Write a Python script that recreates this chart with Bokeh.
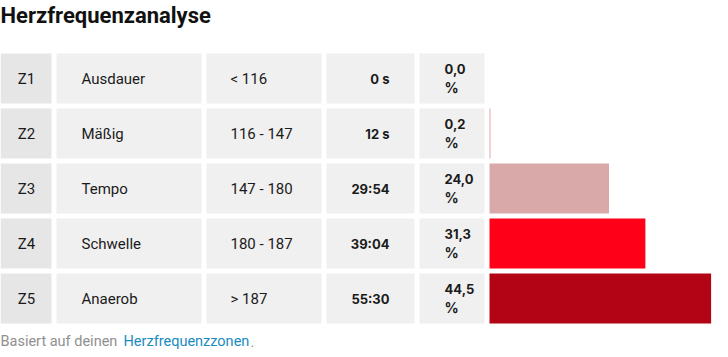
from bokeh.plotting import figure
from bokeh.models import Range1d, ColumnDataSource
from bokeh.core.properties import value
from bokeh.embed import file_html
from bokeh.resources import INLINE

# ---- data ----
title = "Herzfrequenzanalyse"
zones = ["Z1", "Z2", "Z3", "Z4", "Z5"]
names = ["Ausdauer", "Mäßig", "Tempo", "Schwelle", "Anaerob"]
hr_ranges = ["< 116", "116 - 147", "147 - 180", "180 - 187", "> 187"]
durations = ["0 s", "12 s", "29:54", "39:04", "55:30"]
percents = [0.0, 0.2, 24.0, 31.3, 44.5]
bar_colors = ["#d9a9aa", "#d9a9aa", "#d9a9aa", "#ff0019", "#b20414"]
footer_prefix = "Basiert auf deinen "
footer_link = "Herzfrequenzzonen"
footer_suffix = "."

# ---- layout ----
W, H = 728, 357
ROW_TOP, ROW_H, ROW_GAP = 53, 50, 5
cols = [(0, 51), (56, 201), (206, 321), (326, 414), (419, 484)]
BAR_X0 = 489
PX_PER_PCT = 4.98
TXT = "#1b1b1b"
MAIN_FONT = value("Roboto")
NUM_FONT = value("Inter")

p = figure(width=W, height=H, x_range=Range1d(0, W), y_range=Range1d(H, 0),
           output_backend="svg", toolbar_location=None,
           min_border=0, min_border_left=0, min_border_right=0,
           min_border_top=0, min_border_bottom=0)
p.xaxis.visible = False
p.yaxis.visible = False
p.grid.visible = False
p.outline_line_color = None
p.background_fill_color = "white"
p.border_fill_color = "white"
p.extra_x_ranges = {"pct": Range1d(-BAR_X0 / PX_PER_PCT, (W - BAR_X0) / PX_PER_PCT)}

n = len(zones)
tops = [ROW_TOP + i * (ROW_H + ROW_GAP) for i in range(n)]

# cells
cl, cr, ct, cb, cc = [], [], [], [], []
for i in range(n):
    for j, (a, b) in enumerate(cols):
        cl.append(a); cr.append(b); ct.append(tops[i]); cb.append(tops[i] + ROW_H)
        cc.append("#e6e6e6" if j == 0 else "#f0f0f0")
p.quad(left=cl, right=cr, top=ct, bottom=cb, fill_color=cc, line_color=None)

# bars
bar_src = ColumnDataSource(dict(y=[t + ROW_H / 2 for t in tops], right=percents,
                                color=bar_colors))
p.hbar(y="y", left=0, right="right", height=ROW_H, fill_color="color",
       line_color=None, source=bar_src, x_range_name="pct")

base = [t + 25 for t in tops]
CELL_FS = "15px"
p.text(x=[(cols[0][0] + cols[0][1]) / 2 + 0.5] * n, y=base, text=zones,
       text_align="center", text_baseline="alphabetic", text_font=MAIN_FONT,
       text_font_size=CELL_FS, text_color=TXT)
p.text(x=[cols[1][0] + 25] * n, y=base, text=names, text_align="left",
       text_baseline="alphabetic", text_font=MAIN_FONT, text_font_size=CELL_FS,
       text_color=TXT)
p.text(x=[cols[2][0] + 24] * n, y=base, text=hr_ranges, text_align="left",
       text_baseline="alphabetic", text_font=MAIN_FONT, text_font_size=CELL_FS,
       text_color=TXT)
p.text(x=[cols[3][1] - 25] * n, y=[t + 25 for t in tops], text=durations,
       text_align="right", text_baseline="alphabetic", text_font=NUM_FONT,
       text_font_size="13px", text_font_style="bold", text_color=TXT)
pct_labels = [f"{v:.1f}".replace(".", ",") for v in percents]
p.text(x=[cols[4][0] + 25] * n, y=[t + 15 for t in tops], text=pct_labels,
       text_align="left", text_baseline="alphabetic", text_font=NUM_FONT,
       text_font_size="13px", text_font_style="bold", text_color=TXT)
p.text(x=[cols[4][0] + 25] * n, y=[t + 34 for t in tops], text=["%"] * n,
       text_align="left", text_baseline="alphabetic", text_font=NUM_FONT,
       text_font_size="14px", text_font_style="bold", text_color=TXT)

# title
p.text(x=[0], y=[15], text=[title], text_align="left", text_baseline="alphabetic",
       text_font=MAIN_FONT, text_font_size="22px", text_font_style="bold",
       text_color="#111111")

# footer
FOOT_FS = "14.5px"
p.text(x=[0], y=[341], text=[footer_prefix], text_align="left",
       text_baseline="alphabetic", text_font=MAIN_FONT, text_font_size=FOOT_FS,
       text_color="#909090")
p.text(x=[123], y=[341], text=[footer_link], text_align="left",
       text_baseline="alphabetic", text_font=MAIN_FONT, text_font_size=FOOT_FS,
       text_color="#1a8cc2")
p.text(x=[250], y=[341], text=[footer_suffix], text_align="left",
       text_baseline="alphabetic", text_font=MAIN_FONT, text_font_size=FOOT_FS,
       text_color="#909090")

open("out.html", "w").write(file_html(p, INLINE))
